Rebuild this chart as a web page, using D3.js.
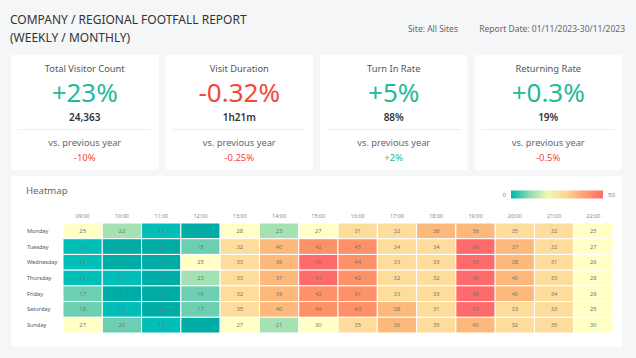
<!DOCTYPE html>
<html><head><meta charset="utf-8">
<script src="https://cdn.jsdelivr.net/npm/d3@7"></script>
<style>
html,body{margin:0;padding:0;background:#f5f6f8;}
svg{display:block;font-family:"Noto Sans","Open Sans",sans-serif;}
</style></head>
<body><svg id="c" width="636" height="358"></svg>
<script>
const days = ["Monday","Tuesday","Wednesday","Thursday","Friday","Saturday","Sunday"];
const hours = ["09:00","10:00","11:00","12:00","13:00","14:00","15:00","16:00","17:00","18:00","19:00","20:00","21:00","22:00"];
const monday    = [25,22,13,10,28,23,27,31,32,36,36,35,32,25];
const tuesday   = [12,5,0,18,32,40,42,45,34,34,48,37,32,27];
const wednesday = [14,1,2,25,33,36,50,44,33,33,50,38,31,26];
const thursday  = [11,11,3,23,33,37,47,42,32,32,46,40,33,28];
const friday    = [17,6,5,16,32,39,42,41,33,33,48,40,34,29];
const saturday  = [18,14,8,17,35,40,44,43,38,31,50,33,33,25];
const sunday    = [27,20,13,4,27,21,30,35,36,35,40,32,35,30];
const grid = [monday,tuesday,wednesday,thursday,friday,saturday,sunday];

const kpiTitles = ["Total Visitor Count","Visit Duration","Turn In Rate","Returning Rate"];
const kpiChange = ["+23%","-0.32%","+5%","+0.3%"];
const kpiValue  = ["24,363","1h21m","88%","19%"];
const kpiPrev   = ["-10%","-0.25%","+2%","-0.5%"];

const colorStops = ["#00ada6","#00bfb8","#6dcfb2","#a4e2b4","#ffffc6","#fedd9c","#fdb97b","#fd9168","#ff6b6b"];
const binEdges = [11,16,21,25,31,36,41,46];
const legendStops = ["#00b5ad","#8fdbb4","#f0f7b0","#fdd692","#fd9f70","#ff6a6a"];

const GREEN="#26b99a", RED="#f5473b";
const svg = d3.select("#c");

// header
const hdr = svg.append("g").attr("fill","#333").style("font-size","12px");
hdr.append("text").attr("x",10).attr("y",24).text("COMPANY / REGIONAL FOOTFALL REPORT");
hdr.append("text").attr("x",10).attr("y",42).text("(WEEKLY / MONTHLY)");
svg.append("text").attr("x",625).attr("y",32).attr("text-anchor","end").attr("fill","#666").style("font-size","8.5px")
  .text("Report Date: 01/11/2023-30/11/2023");
svg.append("text").attr("x",458).attr("y",32).attr("text-anchor","end").attr("fill","#666").style("font-size","8.5px")
  .text("Site: All Sites");

// KPI cards
const cardX = d3.scaleBand().domain(d3.range(4)).range([11,622]).paddingInner(0.0453).paddingOuter(0);
kpiTitles.forEach((t,i)=>{
  const x0 = cardX(i), w = cardX.bandwidth(), cx = x0 + w/2;
  const g = svg.append("g");
  g.append("rect").attr("x",x0).attr("y",55).attr("width",w).attr("height",115).attr("fill","#fff").attr("rx",2);
  g.append("text").attr("x",cx).attr("y",72).attr("text-anchor","middle").attr("fill","#555").style("font-size","9.3px").text(t);
  const up = kpiChange[i][0]==="+";
  g.append("text").attr("x",cx).attr("y",102).attr("text-anchor","middle").attr("fill",up?GREEN:RED).style("font-size","26px").text(kpiChange[i]);
  g.append("text").attr("x",cx).attr("y",121).attr("text-anchor","middle").attr("fill","#333").style("font-size","10px").style("font-weight","600").text(kpiValue[i]);
  g.append("line").attr("x1",x0+7).attr("x2",x0+w-7).attr("y1",129.5).attr("y2",129.5).attr("stroke","#eeeeee");
  g.append("text").attr("x",cx).attr("y",146).attr("text-anchor","middle").attr("fill","#666").style("font-size","9.3px").text("vs. previous year");
  const pu = kpiPrev[i][0]==="+";
  g.append("text").attr("x",cx).attr("y",161).attr("text-anchor","middle").attr("fill",pu?GREEN:RED).style("font-size","9.5px").text(kpiPrev[i]);
});

// heatmap panel
svg.append("rect").attr("x",11).attr("y",176).attr("width",611).attr("height",171).attr("fill","#fff").attr("rx",2);
svg.append("text").attr("x",26).attr("y",194).attr("fill","#666").style("font-size","9.6px").text("Heatmap");

// legend
const defs = svg.append("defs");
const lg = defs.append("linearGradient").attr("id","lg");
legendStops.forEach((c,i)=>lg.append("stop").attr("offset",(i/(legendStops.length-1)*100)+"%").attr("stop-color",c));
svg.append("rect").attr("x",511).attr("y",190.5).attr("width",92).attr("height",8).attr("fill","url(#lg)");
svg.append("text").attr("x",506).attr("y",197).attr("text-anchor","end").attr("fill","#888").style("font-size","6px").text("0");
svg.append("text").attr("x",608).attr("y",197).attr("fill","#888").style("font-size","6px").text("50");

const x = d3.scaleBand().domain(hours).range([63,613]);
const y = d3.scaleBand().domain(days).range([223,333]);
const color = d3.scaleThreshold().domain(binEdges).range(colorStops);

svg.append("g").selectAll("text").data(hours).join("text")
  .attr("x",d=>x(d)+x.bandwidth()/2).attr("y",218).attr("text-anchor","middle")
  .attr("fill","#888").style("font-size","5.5px").text(d=>d);
svg.append("g").selectAll("text").data(days).join("text")
  .attr("x",27).attr("y",d=>y(d)+y.bandwidth()/2+2)
  .attr("fill","#555").style("font-size","5.6px").text(d=>d);

const cells = [];
grid.forEach((row,ri)=>row.forEach((v,ci)=>cells.push({day:days[ri],hour:hours[ci],v})));
const cg = svg.append("g");
cg.selectAll("rect").data(cells).join("rect")
  .attr("x",d=>x(d.hour)).attr("y",d=>y(d.day))
  .attr("width",x.bandwidth()).attr("height",y.bandwidth())
  .attr("fill",d=>color(d.v)).attr("stroke","#fff").attr("stroke-width",1);
cg.selectAll("text").data(cells).join("text")
  .attr("x",d=>x(d.hour)+x.bandwidth()/2).attr("y",d=>y(d.day)+y.bandwidth()/2+2)
  .attr("text-anchor","middle").attr("fill","#777").style("font-size","5.8px").text(d=>d.v);
</script></body></html>
